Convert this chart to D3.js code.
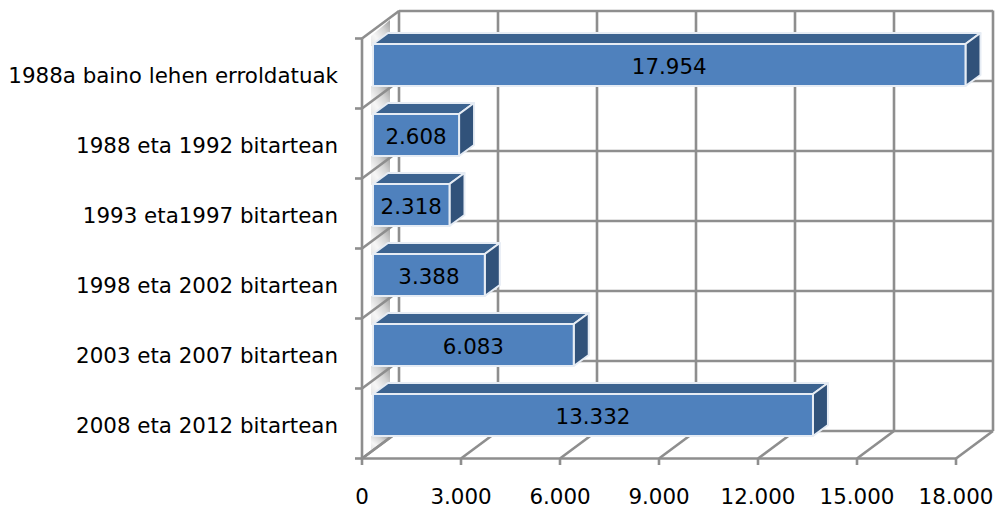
<!DOCTYPE html>
<html><head><meta charset="utf-8">
<script src="https://cdn.jsdelivr.net/npm/d3@7"></script>
<style>html,body{margin:0;background:#fff}svg{display:block}text{font-family:"DejaVu Sans",sans-serif;fill:#000}</style>
</head><body><svg id="c" width="996" height="508"></svg>
<script>
const categories=["1988a baino lehen erroldatuak","1988 eta 1992 bitartean","1993 eta1997 bitartean","1998 eta 2002 bitartean","2003 eta 2007 bitartean","2008 eta 2012 bitartean"];
const values=[17954,2608,2318,3388,6083,13332];
const valueLabels=["17.954","2.608","2.318","3.388","6.083","13.332"];
const tickValues=[0,3000,6000,9000,12000,15000,18000];
const tickLabels=["0","3.000","6.000","9.000","12.000","15.000","18.000"];

const svg=d3.select("#c");
const x=d3.scaleLinear().domain([0,18000]).range([362,956]);
const y=d3.scaleBand().domain(categories).range([38.5,458.5]);
const DX=37,DY=-27.5,bx=11,bdx=15,bdy=-11,GRID="#8e8e8e",FS=21.4,h=42;
const bands=[...categories.map(c=>y(c)),458.5];
const defs=svg.append("defs");
const g=defs.append("linearGradient").attr("id","wall").attr("x1",1).attr("y1",0).attr("x2",0).attr("y2",1);
[[0,"#9c9c9c"],[.35,"#d4d4d4"],[.7,"#f6f6f6"],[1,"#e4e4e4"]].forEach(s=>g.append("stop").attr("offset",s[0]).attr("stop-color",s[1]));
const line=(p,xa,ya,xb,yb,w=2.6)=>p.append("line").attr("x1",xa).attr("y1",ya).attr("x2",xb).attr("y2",yb).attr("stroke",GRID).attr("stroke-width",w);

const grid=svg.append("g");
// wall shading between the bars
const wall=p=>grid.append("polygon").attr("points",p.join(" ")).attr("fill","url(#wall)");
wall([[371,36],[390,20],[390,34],[373,46],[371,46]]);
categories.forEach((c,i)=>{const t=y(c)+5.5;
 if(i<categories.length-1) wall([[371,t+h],[390,t+h],[390,t+59],[373,t+71],[371,t+71]]);
 else wall([[371,t+h],[390,t+h],[390,t+h+1],[371,t+h+14]]);
});
tickValues.forEach(v=>{
 line(grid,x(v)+DX,10.5,x(v)+DX,458.5+DY);
 line(grid,x(v),458.5,x(v)+DX,458.5+DY);
 line(grid,x(v),458.5,x(v),465);
});
bands.forEach(b=>{
 line(grid,x(0)+DX,b+DY,x(18000)+DX,b+DY);
 line(grid,x(0),b,x(0)+DX,b+DY);
 line(grid,x(0)-7,b,x(0),b);
});
line(grid,x(0),38.5,x(0),458.5);
line(grid,x(0),458.5,x(18000),458.5);

const bars=svg.append("g");
categories.forEach((c,i)=>{
 const l=x(0)+bx,r=x(values[i])+bx,t=y(c)+5.5;
 const bar=bars.append("g").attr("stroke","#e6ecf4").attr("stroke-width",2).attr("stroke-linejoin","round");
 bar.append("polygon").attr("points",[[l,t],[l+bdx,t+bdy],[r+bdx,t+bdy],[r,t]].join(" ")).attr("fill","#3c6390");
 bar.append("polygon").attr("points",[[r,t],[r+bdx,t+bdy],[r+bdx,t+h+bdy],[r,t+h]].join(" ")).attr("fill","#31527a");
 bar.append("rect").attr("x",l).attr("y",t).attr("width",r-l).attr("height",h).attr("fill","#4f81bd");
 svg.append("text").attr("x",(l+r)/2).attr("y",t+30).attr("text-anchor","middle").attr("font-size",FS).text(valueLabels[i]);
 svg.append("text").attr("x",338).attr("y",y(c)+44).attr("text-anchor","end").attr("font-size",FS).text(c);
});
tickValues.forEach((v,i)=>svg.append("text").attr("x",x(v)).attr("y",503.5).attr("text-anchor","middle").attr("font-size",FS).text(tickLabels[i]));
</script></body></html>
